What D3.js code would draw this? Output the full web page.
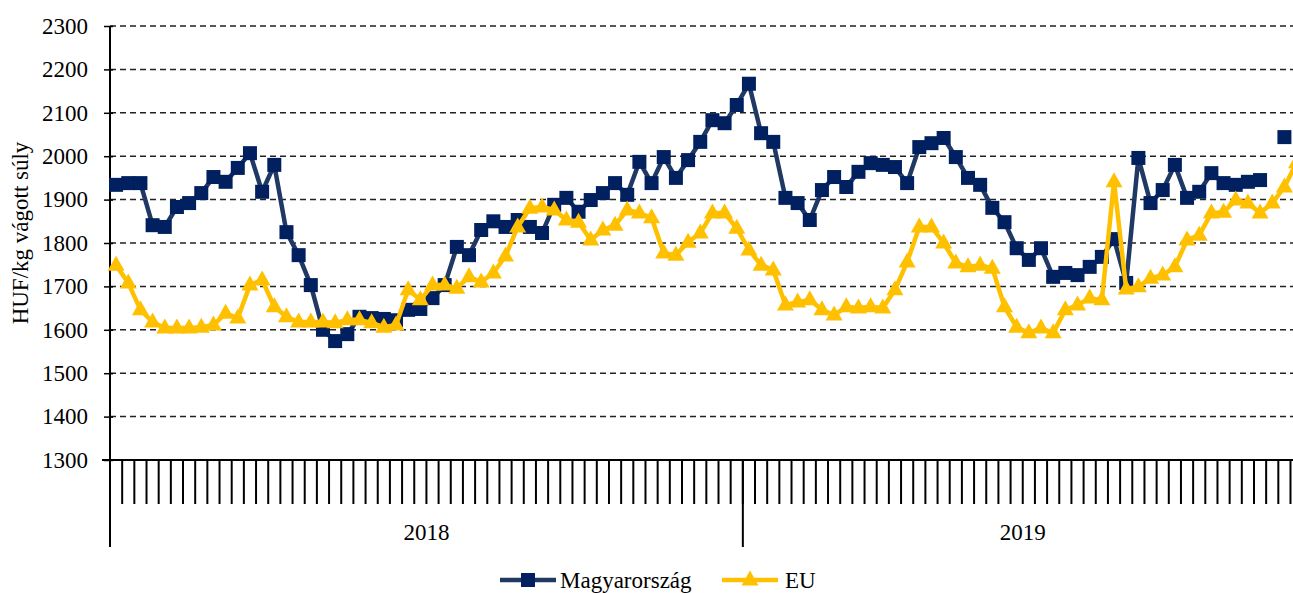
<!DOCTYPE html>
<html>
<head>
<meta charset="utf-8">
<script src="https://cdn.jsdelivr.net/npm/d3@7"></script>
<style>
  html, body { margin: 0; padding: 0; background: #fff; }
  svg { display: block; font-family: "Liberation Serif", "Times New Roman", serif; }
  svg text { font-family: "Liberation Serif", "Times New Roman", serif; }
</style>
</head>
<body>
<div id="chart"></div>
<script>
// heti adatok: 2018 (52 hét) + 2019 (46 hét)
const years = ["2018", "2019"];
const weeksPerYear = [52, 46];
const weeks = years.flatMap((y, k) => d3.range(1, weeksPerYear[k] + 1).map(w => `${y}-${w}`));

const yTicks = [1300, 1400, 1500, 1600, 1700, 1800, 1900, 2000, 2100, 2200, 2300];

const magyar = [
  1934, 1938, 1938, 1841, 1837, 1883, 1892, 1915, 1952, 1941,
  1973, 2007, 1918, 1980, 1825, 1772, 1703, 1600, 1574, 1590,
  1630, 1627, 1625, 1622, 1646, 1648, 1673, 1703, 1791, 1772,
  1830, 1850, 1837, 1853, 1837, 1823, 1888, 1904, 1872, 1899,
  1915, 1938, 1911, 1987, 1938, 1998, 1950, 1991, 2033, 2083,
  2076, 2118, 2167, 2053, 2033, 1904, 1892, 1853, 1922, 1952,
  1929, 1964, 1984, 1980, 1975, 1938, 2021, 2030, 2042, 1998,
  1950, 1934, 1881, 1848, 1788, 1761, 1788, 1722, 1731, 1726,
  1745, 1768, 1809, 1708, 1996, 1892, 1922, 1980, 1904, 1918,
  1961, 1938, 1934, 1941, 1945, null, 2044, null
];

const eu = [
  1749, 1708, 1646, 1618, 1604, 1604, 1604, 1606, 1611, 1638,
  1627, 1703, 1715, 1653, 1630, 1618, 1618, 1618, 1616, 1623,
  1623, 1616, 1606, 1611, 1692, 1669, 1703, 1703, 1696, 1722,
  1710, 1731, 1770, 1837, 1880, 1883, 1876, 1853, 1848, 1807,
  1830, 1841, 1876, 1869, 1858, 1777, 1772, 1802, 1823, 1869,
  1869, 1834, 1784, 1749, 1738, 1657, 1664, 1669, 1646, 1634,
  1653, 1650, 1653, 1650, 1692, 1756, 1837, 1837, 1800, 1754,
  1745, 1749, 1742, 1653, 1606, 1593, 1604, 1593, 1646, 1657,
  1673, 1669, 1941, 1694, 1699, 1719, 1726, 1745, 1807, 1818,
  1869, 1871, 1899, 1892, 1869, 1892, 1929, 1985
];

const width = 1293, height = 593;
const margin = {top: 26, left: 110, bottom: 133};
const step = 12.17;
const plotBottom = height - margin.bottom;
const serif = '"Liberation Serif", "Times New Roman", serif';

const svg = d3.select("#chart").append("svg")
  .attr("width", width).attr("height", height);

const x = d3.scaleBand()
  .domain(weeks)
  .range([margin.left, margin.left + weeks.length * step])
  .paddingInner(0).paddingOuter(0);

const y = d3.scaleLinear()
  .domain([1300, 2300])
  .range([plotBottom, margin.top]);

const cx = i => x(weeks[i]) + x.bandwidth() / 2;

// rácsvonalak
svg.append("g")
  .selectAll("line")
  .data(yTicks.slice(1))
  .join("line")
    .attr("x1", margin.left).attr("x2", width)
    .attr("y1", d => y(d)).attr("y2", d => y(d))
    .attr("stroke", "#222")
    .attr("stroke-width", 1.5)
    .attr("stroke-dasharray", "6,4");

// y tengely
const yAxis = d3.axisLeft(y).tickValues(yTicks).tickFormat(d3.format("d")).tickSize(8).tickPadding(14);
const gy = svg.append("g")
  .attr("transform", `translate(${margin.left},0)`)
  .call(yAxis)
  .attr("font-family", serif)
  .attr("font-size", 23);
gy.select(".domain").remove();
gy.selectAll(".tick line").attr("x2", 3).attr("x1", -6).attr("stroke", "#000").attr("stroke-width", 1.5);
gy.selectAll(".tick text")
  .attr("fill", "#000")
  .attr("font-family", serif)
  .style("font-size", "23px")
  .style("font-family", serif);

svg.append("line")
  .attr("x1", margin.left).attr("x2", margin.left)
  .attr("y1", margin.top).attr("y2", 547)
  .attr("stroke", "#000").attr("stroke-width", 2);

// x tengely: hetek határai
svg.append("line")
  .attr("x1", 102).attr("x2", width)
  .attr("y1", plotBottom).attr("y2", plotBottom)
  .attr("stroke", "#000").attr("stroke-width", 2);

svg.append("g")
  .selectAll("line")
  .data(weeks.slice(1))
  .join("line")
    .attr("x1", d => x(d)).attr("x2", d => x(d))
    .attr("y1", plotBottom).attr("y2", 504)
    .attr("stroke", "#000").attr("stroke-width", 2);

// évhatárok és évcímkék
let start = 0;
years.forEach((yr, k) => {
  const x0 = x(weeks[start]);
  const last = weeks[start + weeksPerYear[k] - 1];
  const x1 = x(last) + x.bandwidth();
  svg.append("line")
    .attr("x1", x1).attr("x2", x1)
    .attr("y1", plotBottom).attr("y2", 547)
    .attr("stroke", "#000").attr("stroke-width", 2);
  svg.append("text")
    .attr("x", (x0 + x1) / 2).attr("y", 540)
    .attr("text-anchor", "middle")
    .style("font-size", "23px")
    .text(yr);
  start += weeksPerYear[k];
});

// y tengely címe
svg.append("text")
  .attr("transform", `translate(28,${(margin.top + plotBottom) / 2 - 10}) rotate(-90)`)
  .attr("text-anchor", "middle")
  .style("font-size", "23px")
  .text("HUF/kg vágott súly");

// sorozatok
const line = d3.line()
  .defined(d => d != null)
  .x((d, i) => cx(i))
  .y(d => y(d));

const triPath = "M0,-9.5L8.5,5.5L-8.5,5.5Z";
const sqPath = "M-7,-7H7V7H-7Z";

const series = [
  {name: "Magyarország", values: magyar, line: "#1F3864", fill: "#002060", marker: "square"},
  {name: "EU", values: eu, line: "#FFC000", fill: "#FFC000", marker: "triangle"}
];

series.forEach(s => {
  svg.append("path")
    .datum(s.values)
    .attr("fill", "none")
    .attr("stroke", s.line)
    .attr("stroke-width", 4.5)
    .attr("stroke-linejoin", "round")
    .attr("d", line);

  const pts = s.values.map((v, i) => ({v, i})).filter(d => d.v != null);
  svg.append("g").selectAll("path")
    .data(pts)
    .join("path")
      .attr("transform", d => `translate(${cx(d.i)},${y(d.v)})`)
      .attr("fill", s.fill)
      .attr("d", s.marker === "square" ? sqPath : triPath);
});

// jelmagyarázat
const legend = [
  {s: series[0], x0: 500, tx: 560},
  {s: series[1], x0: 722, tx: 785}
];
legend.forEach(l => {
  const g = svg.append("g");
  g.append("line")
    .attr("x1", l.x0).attr("x2", l.x0 + 56)
    .attr("y1", 580).attr("y2", 580)
    .attr("stroke", l.s.line).attr("stroke-width", 4.5);
  g.append("path")
    .attr("transform", `translate(${l.x0 + 28},580)`)
    .attr("fill", l.s.fill)
    .attr("d", l.s.marker === "square" ? sqPath : triPath);
  g.append("text")
    .attr("x", l.tx).attr("y", 588)
    .style("font-size", "23px")
    .text(l.s.name);
});
</script>
</body>
</html>
